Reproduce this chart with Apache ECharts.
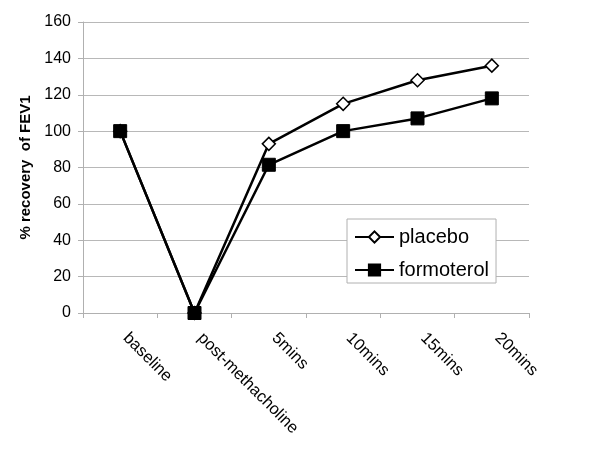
<!DOCTYPE html>
<html>
<head>
<meta charset="utf-8">
<script src="https://cdn.jsdelivr.net/npm/echarts@6/dist/echarts.min.js"></script>
<style>html,body{margin:0;padding:0;background:#fff;}#c{width:600px;height:450px;}</style>
</head>
<body>
<div id="c"></div>
<script>
var categories = ['baseline', 'post-methacholine', '5mins', '10mins', '15mins', '20mins'];
var placebo = [100, 0, 93, 115, 128, 136];
var formoterol = [100, 0, 81.5, 100, 107, 118];
var yTicks = [0, 20, 40, 60, 80, 100, 120, 140, 160];

var chart = echarts.init(document.getElementById('c'));
var font = 'Liberation Sans, Arial, sans-serif';
chart.setOption({
  animation: false,
  backgroundColor: '#ffffff',
  grid: { left: 83, right: 71, top: 22, bottom: 137 },
  xAxis: {
    type: 'category',
    data: categories,
    boundaryGap: true,
    axisLine: { show: true, lineStyle: { color: '#b0b0b0', width: 1 } },
    axisTick: { show: true, length: 5, lineStyle: { color: '#b0b0b0' }, alignWithLabel: false },
    axisLabel: { rotate: -45, interval: 0, color: '#000', fontFamily: font, fontSize: 16.5, margin: 17, align: 'left', verticalAlign: 'middle', padding: [0, 0, 0, 8] },
    splitLine: { show: false }
  },
  yAxis: {
    type: 'value',
    min: yTicks[0],
    max: yTicks[yTicks.length - 1],
    interval: 20,
    name: '% recovery  of FEV1',
    nameLocation: 'middle',
    nameGap: 49,
    nameTextStyle: { color: '#000', fontFamily: font, fontSize: 15, fontWeight: 'bold' },
    axisLine: { show: true, lineStyle: { color: '#b0b0b0', width: 1 } },
    axisTick: { show: true, length: 5, lineStyle: { color: '#b0b0b0' } },
    axisLabel: { color: '#000', fontFamily: font, fontSize: 16, margin: 12 },
    splitLine: { show: true, lineStyle: { color: '#b8b8b8', width: 1 } }
  },
  legend: {
    orient: 'vertical',
    left: 347,
    top: 219,
    padding: [8, 7, 3, 7],
    itemWidth: 39,
    itemHeight: 14,
    itemGap: 13,
    backgroundColor: '#fff',
    borderColor: '#b0b0b0',
    borderWidth: 1,
    textStyle: { color: '#000', fontFamily: font, fontSize: 20 },
    data: ['placebo', 'formoterol']
  },
  series: [
    {
      name: 'placebo',
      type: 'line',
      data: placebo,
      symbol: 'diamond',
      symbolSize: 13,
      showAllSymbol: true,
      lineStyle: { color: '#000', width: 2.5 },
      itemStyle: { color: '#fff', borderColor: '#000', borderWidth: 1.5 },
      z: 2
    },
    {
      name: 'formoterol',
      type: 'line',
      data: formoterol,
      symbol: 'rect',
      symbolSize: 13,
      showAllSymbol: true,
      lineStyle: { color: '#000', width: 2.5 },
      itemStyle: { color: '#000', borderColor: '#000', borderWidth: 1 },
      z: 3
    }
  ]
});
</script>
</body>
</html>
